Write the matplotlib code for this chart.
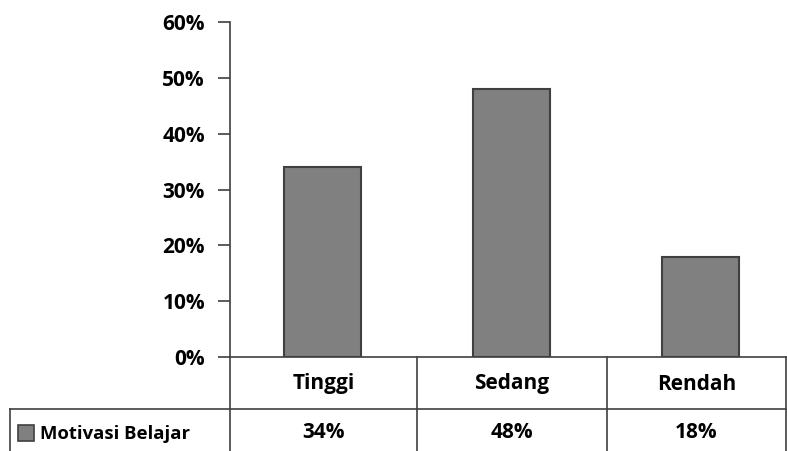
import matplotlib.pyplot as plt
import numpy as np

categories = ['Tinggi', 'Sedang', 'Rendah']
values = [34, 48, 18]
series_name = 'Motivasi Belajar'
yticks = [0, 10, 20, 30, 40, 50, 60]

W, H = 787, 451
plt.rcParams['font.family'] = ['Open Sans', 'DejaVu Sans']
plt.rcParams['font.weight'] = 'bold'

fig = plt.figure(figsize=(W / 100, H / 100), dpi=100)


def fx(px):
    return px / W


def fy(py):
    return 1 - py / H


ax = fig.add_axes([fx(230), fy(357), fx(787) - fx(230), fy(22) - fy(357)])
x = np.arange(len(categories))
ax.bar(x, values, width=0.41, color='#808080', edgecolor='#404040', linewidth=1.5)
ax.set_xlim(-0.489, 2.458)
ax.set_ylim(0, 60)
ax.set_yticks(yticks)
ax.set_yticklabels([f'{v}%' for v in yticks], fontsize=15, fontweight='bold')
ax.tick_params(axis='y', direction='out', length=9, width=1.2, color='#404040', pad=9)
ax.set_xticks([])
for s in ['top', 'right', 'bottom']:
    ax.spines[s].set_visible(False)
ax.spines['left'].set_color('#404040')
ax.spines['left'].set_linewidth(1.2)

# data table drawn below the axes
lc = '#404040'
lw = 1.2
col_edges = [230, 417, 607, 786]
row_top, row_mid, row_bot = 357, 409, 452
fig.add_artist(plt.Line2D([fx(230), fx(786)], [fy(row_top), fy(row_top)], color=lc, lw=lw))
fig.add_artist(plt.Line2D([fx(10), fx(786)], [fy(row_mid), fy(row_mid)], color=lc, lw=lw))
for e in col_edges:
    fig.add_artist(plt.Line2D([fx(e), fx(e)], [fy(row_top), fy(row_bot)], color=lc, lw=lw))
fig.add_artist(plt.Line2D([fx(10), fx(10)], [fy(row_mid), fy(row_bot)], color=lc, lw=lw))

for i, (c, v) in enumerate(zip(categories, values)):
    cx = (col_edges[i] + col_edges[i + 1]) / 2
    fig.text(fx(cx), fy(384), c, ha='center', va='center', fontsize=15, fontweight='bold')
    fig.text(fx(cx), fy(432), f'{v}%', ha='center', va='center', fontsize=15, fontweight='bold')

fig.add_artist(plt.Rectangle((fx(18), fy(441)), fx(16), fy(425) - fy(441),
                             facecolor='#808080', edgecolor=lc, lw=1.2))
fig.text(fx(40), fy(434), series_name, ha='left', va='center', fontsize=13.3, fontweight='bold')

fig.savefig('out.png', dpi=100)
